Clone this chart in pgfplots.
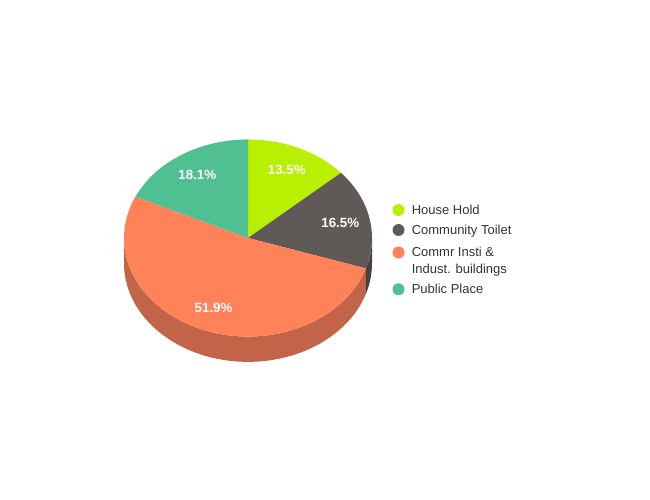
\documentclass[border=0pt]{standalone}
\usepackage{pgfplots}
\pgfplotsset{compat=1.18}
\usepackage{fontspec}
\setmainfont{Liberation Sans}

\definecolor{hhold}{HTML}{B9EF00}
\definecolor{ctoil}{HTML}{5F5A58}
\definecolor{ctoilside}{HTML}{47423F}
\definecolor{commr}{HTML}{FF8259}
\definecolor{commrside}{HTML}{C16447}
\definecolor{pplace}{HTML}{50BF92}
\definecolor{legtext}{HTML}{333333}

\begin{document}
\begin{tikzpicture}
% shares in percent, clockwise from 12 o'clock
\def\vA{13.5}\def\vB{16.5}\def\vC{51.9}\def\vD{18.1}
\pgfmathsetmacro\aA{90}
\pgfmathsetmacro\aB{\aA-3.6*\vA}
\pgfmathsetmacro\aC{\aB-3.6*\vB}
\pgfmathsetmacro\aD{\aC-3.6*\vC}
\pgfmathsetmacro\aE{\aD-3.6*\vD}
\tikzset{
  rad/.style={x radius=93pt, y radius=73.9pt},
  lbl/.style={text=white, font=\bfseries\fontsize{10}{12}\selectfont},
  leg/.style={anchor=base west, inner sep=0pt, text=legtext, font=\fontsize{9.75}{11}\selectfont},
}
\begin{axis}[
    scale only axis, width=487.5pt, height=375pt,
    xmin=0, xmax=650, ymin=0, ymax=500,
    hide axis,
]
% keep the whole canvas
\path (axis cs:0,0) rectangle (axis cs:650,500);
\coordinate (c) at (axis cs:248,262);

% sides (front half only)
\fill[commrside] (c) ++(\aC:93pt and 73.9pt) arc[start angle=\aC, end angle=-180, rad]
    -- ++(0pt,-19pt) arc[start angle=-180, end angle=\aC, rad] -- cycle;
\fill[ctoilside] (c) ++(0:93pt and 73.9pt) arc[start angle=0, end angle=\aC, rad]
    -- ++(0pt,-19pt) arc[start angle=\aC, end angle=0, rad] -- cycle;

% top faces
\fill[hhold] (c) -- ++(\aA:93pt and 73.9pt) arc[start angle=\aA, end angle=\aB, rad] -- cycle;
\fill[ctoil] (c) -- ++(\aB:93pt and 73.9pt) arc[start angle=\aB, end angle=\aC, rad] -- cycle;
\fill[commr] (c) -- ++(\aC:93pt and 73.9pt) arc[start angle=\aC, end angle=\aD, rad] -- cycle;
\fill[pplace] (c) -- ++(\aD:93pt and 73.9pt) arc[start angle=\aD, end angle=\aE, rad] -- cycle;

% value labels
\path (c) ++({(\aA+\aB)/2}:70.7pt and 56.2pt) node[lbl] {\vA\%};
\path (c) ++({(\aB+\aC)/2}:70.7pt and 56.2pt) node[lbl] {\vB\%};
\path (c) ++({(\aC+\aD)/2}:70.7pt and 56.2pt) node[lbl] {\vC\%};
\path (c) ++({(\aD+\aE)/2}:70.7pt and 56.2pt) node[lbl] {\vD\%};

% legend
\fill[hhold]  (axis cs:398.5,290)   circle[radius=4.5pt];
\fill[ctoil]  (axis cs:398.5,270)   circle[radius=4.5pt];
\fill[commr]  (axis cs:398.5,247.5) circle[radius=4.5pt];
\fill[pplace] (axis cs:398.5,210.7) circle[radius=4.5pt];
\node[leg] at (axis cs:411.5,285.4) {House Hold};
\node[leg] at (axis cs:411.5,265.4) {Community Toilet};
\node[leg] at (axis cs:411.5,243)   {Commr Insti \&};
\node[leg] at (axis cs:411.5,226.7) {Indust. buildings};
\node[leg] at (axis cs:411.5,206)   {Public Place};
\end{axis}
\end{tikzpicture}
\end{document}
